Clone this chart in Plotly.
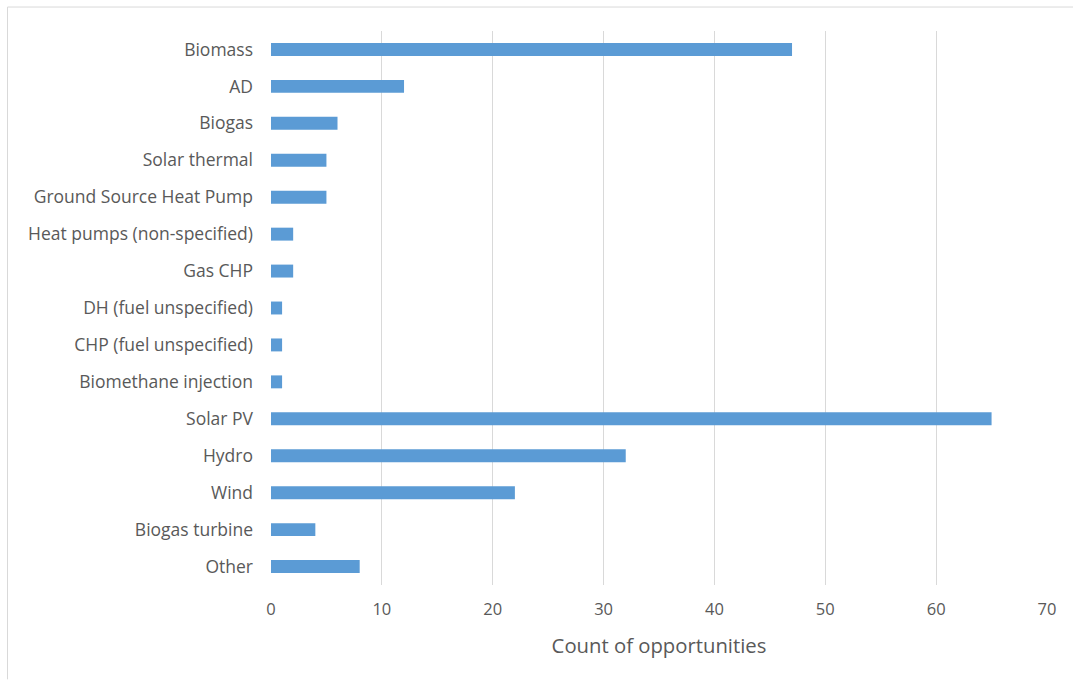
import plotly.graph_objects as go

categories = ["Biomass", "AD", "Biogas", "Solar thermal", "Ground Source Heat Pump",
              "Heat pumps (non-specified)", "Gas CHP", "DH (fuel unspecified)",
              "CHP (fuel unspecified)", "Biomethane injection", "Solar PV", "Hydro",
              "Wind", "Biogas turbine", "Other"]
counts = [47, 12, 6, 5, 5, 2, 2, 1, 1, 1, 65, 32, 22, 4, 8]
x_ticks = [0, 10, 20, 30, 40, 50, 60, 70]

W, H = 1073, 680
L, R, T, B = 271, 26, 30.5, 94.5

fig = go.Figure(go.Bar(
    y=categories, x=counts, orientation="h",
    marker=dict(color="#5B9BD5", line=dict(width=0)),
    width=0.35,
))

font_fam = "Open Sans, Segoe UI, sans-serif"
fig.update_layout(
    width=W, height=H,
    margin=dict(l=L, r=R, t=T, b=B, pad=0),
    paper_bgcolor="white", plot_bgcolor="white",
    showlegend=False,
    font=dict(family=font_fam, color="#595959", size=16),
    xaxis=dict(range=[0, 70], tickvals=x_ticks, showgrid=True, gridcolor="#D9D9D9",
               gridwidth=1, zeroline=False, showline=False, ticks="",
               ticklabelstandoff=12,
               tickfont=dict(size=16.5, color="#595959"),
               title=dict(text="Count of opportunities", font=dict(size=20.3, color="#595959"),
                          standoff=20)),
    yaxis=dict(autorange="reversed", showgrid=False, zeroline=False, showline=False,
               ticks="", ticklabelstandoff=17,
               tickfont=dict(size=17.5, color="#595959")),
    bargap=0.65,
)

# outer chart frame (top and left edges visible)
fig.add_shape(type="line", xref="paper", yref="paper",
              x0=(7.5 - L) / (W - L - R), x1=(W - L) / (W - L - R),
              y0=1 + (T - 6.5) / (H - T - B), y1=1 + (T - 6.5) / (H - T - B),
              line=dict(color="#D9D9D9", width=1))
fig.add_shape(type="line", xref="paper", yref="paper",
              x0=(7.5 - L) / (W - L - R), x1=(7.5 - L) / (W - L - R),
              y0=1 + (T - 6.5) / (H - T - B), y1=-B / (H - T - B),
              line=dict(color="#D9D9D9", width=1))

fig.write_html("out.html")
